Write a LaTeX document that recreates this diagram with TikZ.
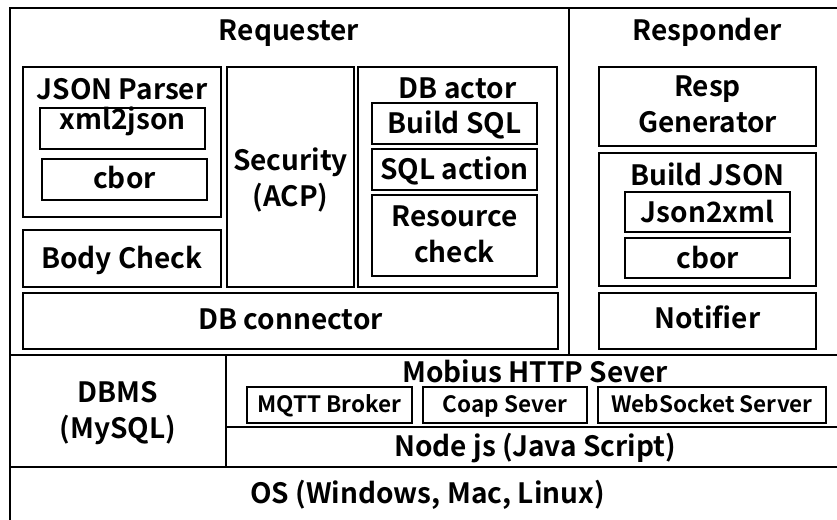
\documentclass[tikz,border=0pt]{standalone}
\usepackage{fontspec}
\setmainfont{Noto Sans CJK KR}[BoldFont={Noto Sans CJK KR Bold}]
\begin{document}
\begin{tikzpicture}[x=1pt,y=-1pt,
  box/.style={draw, line width=1.4pt, inner sep=0pt},
  lbl/.style={font=\fontsize{28}{36}\selectfont\bfseries, align=center, inner sep=0pt, anchor=base},
  lbl2/.style={font=\fontsize{28}{36}\selectfont\bfseries, align=center, inner sep=0pt},
  slbl/.style={font=\fontsize{22.5}{27}\selectfont\bfseries, align=center, inner sep=0pt, anchor=base},
  frame/.style={line width=1.8pt},
  thick frame/.style={line width=2.6pt}]
\useasboundingbox (0,0) rectangle (837,519);
\clip (0,0) rectangle (837,519);
\fill[white] (0,0) rectangle (837,519);
% outer frame (right and bottom edges lie outside the picture)
\draw[frame] (10,8) rectangle (845,530);
\draw[frame] (569,8) -- (569,355);
\draw[thick frame] (10,355) -- (845,355);
\draw[frame] (226,355) -- (226,467);
\draw[frame] (226,427) -- (845,427);
\draw[frame] (10,467) -- (845,467);
% section titles
\node[lbl] (req) at (289,41) {Requester};
\node[lbl] (resp) at (707,41) {Responder};
% JSON parser group
\draw[box] (23,67) rectangle (221,217);
\node[lbl] (jsonp) at (122,99) {JSON Parser};
\draw[box] (40,108) rectangle (205,149);
\node[lbl] (x2j) at (122.5,129) {xml2json};
\draw[box] (42,159) rectangle (207,200);
\node[lbl] (cbor1) at (124.5,188) {cbor};
\draw[box] (23,230) rectangle (221,287);
\node[lbl] (body) at (122,268) {Body Check};
% Security
\draw[box] (227,67) rectangle (354,287);
\node[lbl2] (sec) at (290.5,179.5) {Security\\(ACP)};
% DB actor
\draw[box] (358,67) rectangle (557,287);
\node[lbl] (dba) at (457.5,98) {DB actor};
\draw[box] (372,103) rectangle (537,144);
\node[lbl] (bsql) at (454.5,133) {Build SQL};
\draw[box] (372,149) rectangle (537,190);
\node[lbl] (sqla) at (454.5,179) {SQL action};
\draw[box] (372,195) rectangle (537,276);
\node[lbl2] (resc) at (454.5,234.5) {Resource\\check};
% Responder parts
\draw[box] (599,67) rectangle (816,146);
\node[lbl2] (rgen) at (707.5,104) {Resp\\Generator};
\draw[box] (599,153) rectangle (816,286);
\node[lbl] (bjson) at (707.5,185) {Build JSON};
\draw[box] (625,192) rectangle (790,232);
\node[lbl] (j2x) at (707.5,222) {Json2xml};
\draw[box] (625,238) rectangle (790,278);
\node[lbl] (cbor2) at (707.5,268) {cbor};
% connectors row
\draw[box] (23,293) rectangle (558,349);
\node[lbl] (dbc) at (290.5,329) {DB connector};
\draw[box] (599,293) rectangle (816,349);
\node[lbl] (notif) at (707.5,328) {Notifier};
% lower layers
\node[lbl2] (dbms) at (118,413) {DBMS\\(MySQL)};
\node[lbl] (mob) at (535,382) {Mobius HTTP Sever};
\draw[box] (247,387) rectangle (412,423);
\node[slbl] (mqtt) at (329.5,412) {MQTT Broker};
\draw[box] (423,387) rectangle (587,423);
\node[slbl] (coap) at (505,412) {Coap Sever};
\draw[box] (598,387) rectangle (826,423);
\node[slbl] (ws) at (712,412) {WebSocket Server};
\node[lbl] (node) at (535,456) {Node js (Java Script)};
\node[lbl] (os) at (427.5,503) {OS (Windows, Mac, Linux)};
\end{tikzpicture}
\end{document}
